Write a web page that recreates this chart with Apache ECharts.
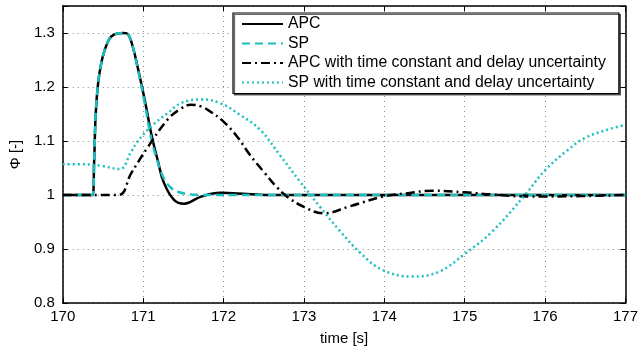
<!DOCTYPE html>
<html><head><meta charset="utf-8">
<script src="https://cdn.jsdelivr.net/npm/echarts@6/dist/echarts.min.js"></script>
<style>html,body{margin:0;padding:0;background:#fff}#c{width:641px;height:351px}</style>
</head><body><div id="c"></div>
<script>
var xTicks = [170,171,172,173,174,175,176,177];
var yTicks = [0.8,0.9,1,1.1,1.2,1.3];
var seriesNames = ['APC','SP','APC with time constant and delay uncertainty','SP with time constant and delay uncertainty'];

var tAPC = [170,170.37,170.39,170.41,170.44,170.48,170.52,170.56,170.60,170.68,170.76,170.81,170.87,170.93,171.02,171.10,171.18,171.26,171.39,171.51,171.72,171.96,172.29,172.6,173,177];
var yAPC = [1,1,1.06,1.15,1.207,1.245,1.268,1.283,1.293,1.299,1.300,1.298,1.275,1.238,1.176,1.114,1.065,1.022,0.990,0.984,0.997,1.004,1.002,1.0,1.0,1.0];

var tSP = [170,170.37,170.39,170.41,170.44,170.48,170.52,170.56,170.60,170.68,170.76,170.81,170.87,170.93,171.02,171.10,171.18,171.26,171.35,171.45,171.6,171.8,172.2,177];
var ySP = [1,1,1.06,1.15,1.207,1.245,1.268,1.283,1.293,1.299,1.300,1.298,1.275,1.236,1.17,1.105,1.062,1.030,1.013,1.005,1.001,1.0,1.0,1.0];

var tAPCu = [170,170.69,170.85,171.06,171.30,171.45,171.59,171.72,171.84,172.0,172.17,172.33,172.50,172.66,172.79,173.0,173.24,173.57,173.98,174.27,174.60,175.0,175.34,175.83,176.44,177];
var yAPCu = [1,1,1.040,1.089,1.139,1.158,1.167,1.164,1.154,1.136,1.108,1.074,1.043,1.015,0.997,0.978,0.966,0.979,0.997,1.003,1.008,1.005,1.001,0.997,0.998,1.0];

var tSPu = [170,170.23,170.48,170.71,170.85,170.93,171.10,171.30,171.47,171.72,171.96,172.21,172.46,172.70,172.95,173.20,173.45,173.70,173.98,174.35,174.68,175.01,175.34,175.75,176.0,176.28,176.5,176.8,177];
var ySPu = [1.057,1.057,1.054,1.048,1.080,1.099,1.127,1.151,1.170,1.177,1.170,1.148,1.120,1.074,1.025,0.978,0.933,0.893,0.861,0.849,0.858,0.892,0.932,1.0,1.046,1.083,1.106,1.122,1.13];

function pairs(t, y){ return t.map(function(v,i){return [v,y[i]];}); }

var cyan = '#1CBFBF';
var font = 'Liberation Sans, Arial, Helvetica, sans-serif';
var chart = echarts.init(document.getElementById('c'), null, {renderer:'canvas'});
chart.setOption({
  animation:false,
  backgroundColor:'#fff',
  grid:{left:61, right:13, top:6, bottom:48},
  legend:{
    data:seriesNames, orient:'vertical', left:233, top:13,
    itemWidth:41, itemHeight:12, itemGap:3.5, padding:[3,13,3,8],
    borderColor:'#000', borderWidth:1.2, backgroundColor:'#fff',
    shadowColor:'rgba(0,0,0,0.6)', shadowOffsetX:1.5, shadowOffsetY:1.5, shadowBlur:0,
    textStyle:{fontFamily:font, fontSize:15.8, color:'#000', lineHeight:16},
    itemStyle:{opacity:0}
  },
  xAxis:[{
    type:'value', min:170, max:177, interval:1,
    name:'time [s]', nameLocation:'middle', nameGap:28,
    nameTextStyle:{fontFamily:font, fontSize:15, color:'#000'},
    axisLine:{lineStyle:{color:'#000', width:1.5}},
    axisTick:{inside:true, length:5, lineStyle:{color:'#000'}},
    axisLabel:{fontFamily:font, fontSize:15, color:'#000', margin:6},
    splitLine:{show:true, lineStyle:{color:'#888', type:[1,4], width:1}}
  },{
    type:'value', min:170, max:177, interval:1, position:'top',
    axisLine:{show:true, lineStyle:{color:'#000', width:1.5}},
    axisTick:{inside:true, length:5, lineStyle:{color:'#000'}},
    axisLabel:{show:false}, splitLine:{show:false}
  }],
  yAxis:[{
    type:'value', min:0.8, max:1.35, interval:0.1,
    name:'Φ [-]', nameLocation:'middle', nameGap:34, nameRotate:90,
    nameTextStyle:{fontFamily:font, fontSize:15, color:'#000'},
    axisLine:{show:true, lineStyle:{color:'#000', width:1.5}},
    axisTick:{show:true, inside:true, length:5, lineStyle:{color:'#000'}},
    axisLabel:{fontFamily:font, fontSize:15, color:'#000', margin:8,
      formatter:function(v){ if(v>1.31) return ''; return String(Math.round(v*10)/10);} },
    splitLine:{show:true, lineStyle:{color:'#888', type:[1,4], width:1}}
  },{
    type:'value', min:0.8, max:1.35, interval:0.1, position:'right',
    axisLine:{show:true, lineStyle:{color:'#000', width:1.5}},
    axisTick:{show:true, inside:true, length:5, lineStyle:{color:'#000'}},
    axisLabel:{show:false}, splitLine:{show:false}
  }],
  series:[
    {name:seriesNames[0], type:'line', data:pairs(tAPC,yAPC), showSymbol:false, symbol:'none', smooth:0.4,
      lineStyle:{color:'#000', width:2.5}, itemStyle:{color:'#000'}, z:3},
    {name:seriesNames[1], type:'line', data:pairs(tSP,ySP), showSymbol:false, symbol:'none', smooth:0.4,
      lineStyle:{color:cyan, width:2.5, type:[8,5]}, itemStyle:{color:cyan}, z:4},
    {name:seriesNames[2], type:'line', data:pairs(tAPCu,yAPCu), showSymbol:false, symbol:'none', smooth:0.4,
      lineStyle:{color:'#000', width:2.5, type:[9,4,2,4]}, itemStyle:{color:'#000'}, z:5},
    {name:seriesNames[3], type:'line', data:pairs(tSPu,ySPu), showSymbol:false, symbol:'none', smooth:0.4,
      lineStyle:{color:cyan, width:2.5, type:[2,3]}, itemStyle:{color:cyan}, z:6}
  ]
});
</script></body></html>
